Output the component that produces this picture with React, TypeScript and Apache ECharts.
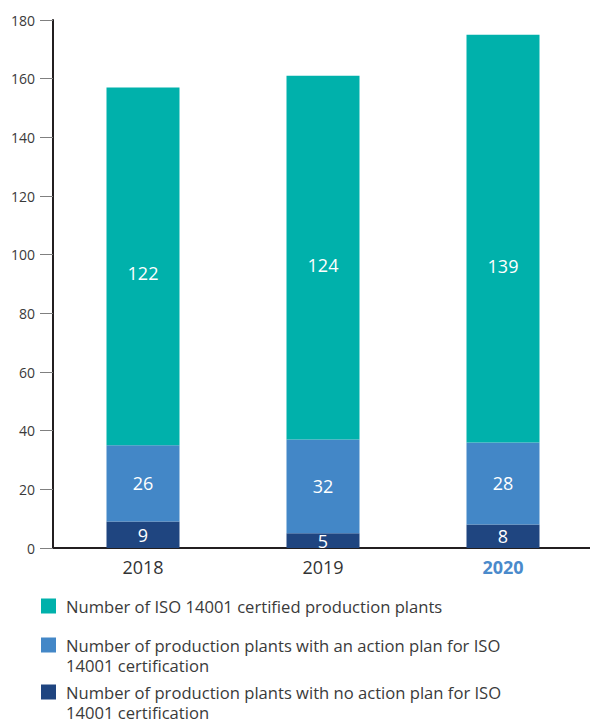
import React, { useEffect, useRef } from "react";
import * as echarts from "echarts";

const years = ["2018", "2019", "2020"];
const noPlan = [9, 5, 8];
const actionPlan = [26, 32, 28];
const certified = [122, 124, 139];
const yTicks = [0, 20, 40, 60, 80, 100, 120, 140, 160, 180];

const seriesNames = [
  "Number of ISO 14001 certified production plants",
  "Number of production plants with an action plan for ISO\n14001 certification",
  "Number of production plants with no action plan for ISO\n14001 certification",
];

const FONT = "Open Sans";
const TEAL = "#00B1AB";
const MID = "#4387C7";
const NAVY = "#1F4580";
const tealLabelShift = [7, 7, 27];
// square in the top part of a taller icon box, so it lines up with the first text line
const TALL_ICON = "path://M0,0L15,0L15,15L0,15ZM0,35";

export default function App() {
  const ref = useRef<HTMLDivElement>(null);
  useEffect(() => {
    if (!ref.current) return;
    const chart = echarts.init(ref.current, undefined, { renderer: "svg" });
    const labelBase = {
      show: true,
      position: "inside",
      color: "#ffffff",
      fontSize: 18,
      fontFamily: FONT,
    };
    const legendText = { fontFamily: FONT, fontSize: 16.6, color: "#3a3a3a", lineHeight: 20, padding: [0, 0, 0, 5] };
    const legendCommon = {
      orient: "vertical",
      left: 41,
      padding: 0,
      itemWidth: 15,
      itemHeight: 15,
      itemGap: 10,
      icon: "rect",
      selectedMode: false,
      textStyle: legendText,
    };
    chart.setOption({
      animation: false,
      grid: { left: 53, top: 20, bottom: 174, width: 540 },
      legend: [
        { ...legendCommon, top: 596, data: [seriesNames[0]] },
        { ...legendCommon, top: 635, itemHeight: 35, icon: TALL_ICON, data: [seriesNames[1]] },
        { ...legendCommon, top: 682, itemHeight: 35, icon: TALL_ICON, data: [seriesNames[2]] },
      ],
      xAxis: {
        type: "category",
        data: years,
        axisLine: { lineStyle: { color: "#231f20", width: 2 } },
        axisTick: { show: false },
        axisLabel: {
          fontFamily: FONT,
          fontSize: 18,
          color: "#333333",
          margin: 10,
          formatter: (v: string) => (v === "2020" ? `{hl|${v}}` : v),
          rich: { hl: { fontFamily: FONT, fontSize: 18, fontWeight: "bold", color: "#4A8ACB" } },
        },
      },
      yAxis: {
        type: "value",
        min: yTicks[0],
        max: yTicks[yTicks.length - 1],
        interval: 20,
        splitLine: { show: false },
        axisLine: { show: true, lineStyle: { color: "#231f20", width: 2 } },
        axisTick: { show: true, length: 13, lineStyle: { color: "#808080", width: 1 } },
        axisLabel: { fontFamily: FONT, fontSize: 14, color: "#3a3a3a", margin: 18 },
      },
      series: [
        {
          name: seriesNames[2],
          type: "bar",
          stack: "total",
          barWidth: 73,
          itemStyle: { color: NAVY },
          label: labelBase,
          data: noPlan,
        },
        {
          name: seriesNames[1],
          type: "bar",
          stack: "total",
          barWidth: 73,
          itemStyle: { color: MID },
          label: labelBase,
          data: actionPlan,
        },
        {
          name: seriesNames[0],
          type: "bar",
          stack: "total",
          barWidth: 73,
          itemStyle: { color: TEAL },
          label: labelBase,
          data: certified.map((v, i) => ({ value: v, label: { offset: [0, tealLabelShift[i]] } })),
        },
      ],
    });
    return () => chart.dispose();
  }, []);
  return (
    <div style={{ position: "absolute", left: 0, top: 0, width: 590, height: 722, overflow: "hidden" }}>
      <div ref={ref} style={{ width: 600, height: 722 }} />
    </div>
  );
}
